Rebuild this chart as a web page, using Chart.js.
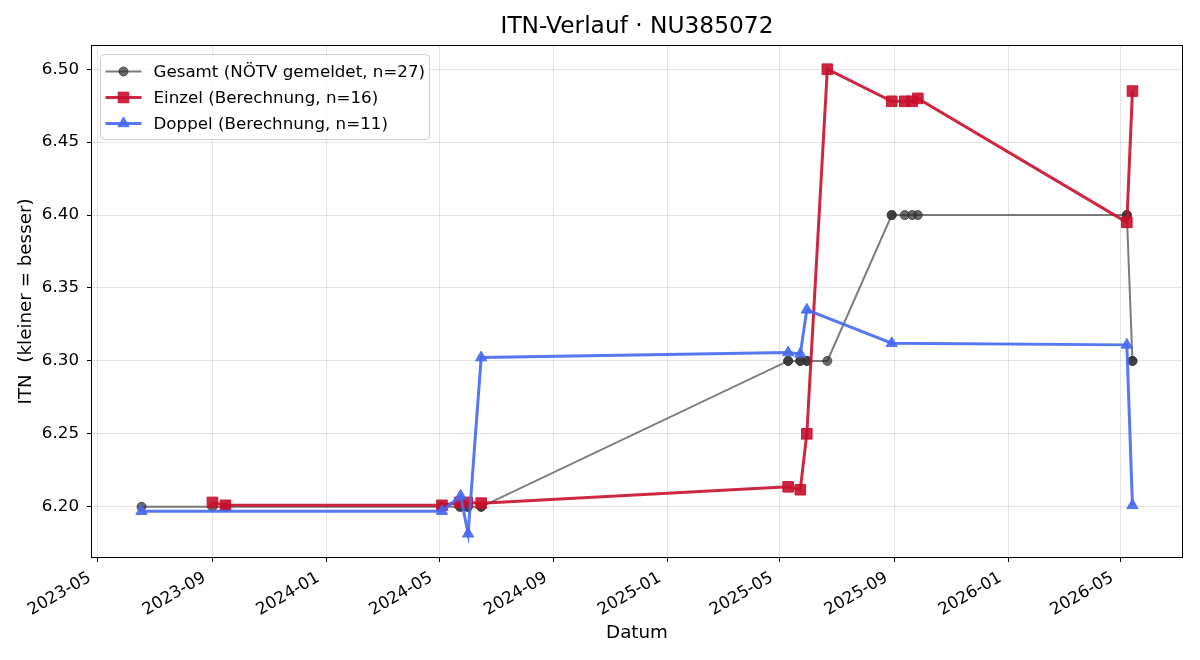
<!DOCTYPE html>
<html lang="de">
<head>
<meta charset="UTF-8">
<title>ITN-Verlauf</title>
<script src="https://cdn.jsdelivr.net/npm/chart.js@4.4.1/dist/chart.umd.min.js"></script>
<style>
  body { margin: 0; background: #fff; }
  canvas { display: block; }
</style>
</head>
<body>
<canvas id="itnChart" width="1200" height="660"></canvas>
<script>
// values
const gesamtDates = [
  '2023-06-17', '2023-09-01', '2023-09-15', '2024-05-04', '2024-05-04', '2024-05-23',
  '2024-05-24', '2024-05-31', '2024-06-01', '2024-06-15', '2024-06-15', '2025-05-10',
  '2025-05-10', '2025-05-23', '2025-05-23', '2025-05-30', '2025-05-30', '2025-06-21',
  '2025-08-29', '2025-08-29', '2025-09-12', '2025-09-20', '2025-09-26', '2026-05-08',
  '2026-05-08', '2026-05-14', '2026-05-14'
];
const gesamtITN = [
  6.20, 6.20, 6.20, 6.20, 6.20, 6.20,
  6.20, 6.20, 6.20, 6.20, 6.20, 6.30,
  6.30, 6.30, 6.30, 6.30, 6.30, 6.30,
  6.40, 6.40, 6.40, 6.40, 6.40, 6.40,
  6.40, 6.30, 6.30
];

const einzelDates = [
  '2023-09-01', '2023-09-15', '2024-05-04', '2024-05-23', '2024-05-31', '2024-06-15',
  '2025-05-10', '2025-05-23', '2025-05-30', '2025-06-21', '2025-08-29', '2025-09-12',
  '2025-09-20', '2025-09-26', '2026-05-08', '2026-05-14'
];
const einzelITN = [
  6.203, 6.201, 6.201, 6.203, 6.203, 6.2025,
  6.2137, 6.2117, 6.250, 6.500, 6.478, 6.478,
  6.478, 6.480, 6.395, 6.485
];

const doppelDates = [
  '2023-06-17', '2024-05-04', '2024-05-24', '2024-06-01', '2024-06-15', '2025-05-10',
  '2025-05-23', '2025-05-30', '2025-08-29', '2026-05-08', '2026-05-14'
];
const doppelITN = [
  6.197, 6.197, 6.2075, 6.1815, 6.3023, 6.3057,
  6.3048, 6.335, 6.3121, 6.311, 6.201
];

const xTickLabels = ['2023-05', '2023-09', '2024-01', '2024-05', '2024-09',
                     '2025-01', '2025-05', '2025-09', '2026-01', '2026-05'];
const yTickValues = [6.20, 6.25, 6.30, 6.35, 6.40, 6.45, 6.50];

function toTime(s) {
  const p = s.split('-').map(Number);
  return Date.UTC(p[0], p[1] - 1, p[2] || 1);
}
function toPoints(dates, vals) {
  return dates.map((d, i) => ({ x: toTime(d), y: vals[i] }));
}
function fmtMonth(v) {
  const d = new Date(v);
  return d.getUTCFullYear() + '-' + String(d.getUTCMonth() + 1).padStart(2, '0');
}

// matplotlib style 5% margins
const allX = [...gesamtDates, ...einzelDates, ...doppelDates].map(toTime);
const allY = [...gesamtITN, ...einzelITN, ...doppelITN];
const xLo = Math.min(...allX), xHi = Math.max(...allX);
const yLo = Math.min(...allY), yHi = Math.max(...allY);
const xPad = (xHi - xLo) * 0.05, yPad = (yHi - yLo) * 0.05;

Chart.defaults.font.family = "'DejaVu Sans', sans-serif";
Chart.defaults.color = '#000';

const frame = {
  id: 'frame',
  afterDatasetsDraw(chart) {
    const { ctx, chartArea: a } = chart;
    ctx.save();
    ctx.strokeStyle = '#000';
    ctx.lineWidth = 1;
    ctx.strokeRect(Math.round(a.left) - 0.5, Math.round(a.top) - 0.5,
                   Math.round(a.right - a.left) + 1, Math.round(a.bottom - a.top) + 1);
    ctx.restore();
  }
};

const legendBox = {
  id: 'legendBox',
  afterDraw(chart) {
    const { ctx, chartArea: a } = chart;
    const bx = a.left + 8.5, by = a.top + 8.5, bw = 329, bh = 85, r = 4;
    ctx.save();
    ctx.beginPath();
    ctx.moveTo(bx + r, by);
    ctx.arcTo(bx + bw, by, bx + bw, by + bh, r);
    ctx.arcTo(bx + bw, by + bh, bx, by + bh, r);
    ctx.arcTo(bx, by + bh, bx, by, r);
    ctx.arcTo(bx, by, bx + bw, by, r);
    ctx.closePath();
    ctx.fillStyle = 'rgba(255,255,255,0.8)';
    ctx.fill();
    ctx.strokeStyle = '#cccccc';
    ctx.lineWidth = 1;
    ctx.stroke();

    chart.data.datasets.forEach((ds, i) => {
      const y = by + 17 + i * 26;
      ctx.strokeStyle = ds.borderColor;
      ctx.lineWidth = ds.borderWidth;
      ctx.beginPath();
      ctx.moveTo(bx + 5, y);
      ctx.lineTo(bx + 41, y);
      ctx.stroke();
      ctx.fillStyle = ds.pointBackgroundColor;
      ctx.strokeStyle = ds.pointBorderColor;
      ctx.lineWidth = ds.pointBorderWidth;
      Chart.helpers.drawPoint(ctx, {
        pointStyle: ds.pointStyle, radius: ds.pointRadius,
        borderWidth: ds.pointBorderWidth, rotation: 0
      }, bx + 23, y);
      ctx.fillStyle = '#000';
      ctx.font = "16.7px 'DejaVu Sans', sans-serif";
      ctx.textBaseline = 'middle';
      ctx.textAlign = 'left';
      ctx.fillText(ds.label, bx + 53, y + 1);
    });
    ctx.restore();
  }
};

const ctx = document.getElementById('itnChart').getContext('2d');
const itnChart = new Chart(ctx, {
  type: 'line',
  data: {
    datasets: [
      {
        label: 'Gesamt (NÖTV gemeldet, n=27)',
        data: toPoints(gesamtDates, gesamtITN),
        borderColor: 'rgba(80,80,80,0.75)',
        borderWidth: 2,
        pointStyle: 'circle',
        pointRadius: 4.5,
        pointBorderWidth: 1,
        pointBackgroundColor: 'rgba(50,50,50,0.72)',
        pointBorderColor: 'rgba(50,50,50,0.72)',
        order: 3
      },
      {
        label: 'Einzel (Berechnung, n=16)',
        data: toPoints(einzelDates, einzelITN),
        borderColor: 'rgba(200,16,46,0.9)',
        borderWidth: 3,
        pointStyle: 'rect',
        pointRadius: 7.5,
        pointBorderWidth: 1,
        pointBackgroundColor: 'rgba(200,16,46,0.9)',
        pointBorderColor: 'rgba(200,16,46,0.9)',
        order: 2
      },
      {
        label: 'Doppel (Berechnung, n=11)',
        data: toPoints(doppelDates, doppelITN),
        borderColor: 'rgba(70,105,240,0.9)',
        borderWidth: 3,
        pointStyle: 'triangle',
        pointRadius: 6.5,
        pointBorderWidth: 1,
        pointBackgroundColor: 'rgba(70,105,240,0.9)',
        pointBorderColor: 'rgba(70,105,240,0.9)',
        order: 1
      }
    ]
  },
  options: {
    responsive: false,
    animation: false,
    devicePixelRatio: 1,
    layout: { padding: { left: 0, right: 18, top: 0, bottom: 0 } },
    elements: { line: { tension: 0 } },
    scales: {
      x: {
        type: 'linear',
        min: xLo - xPad,
        max: xHi + xPad,
        afterBuildTicks: (scale) => {
          scale.ticks = xTickLabels.map(l => ({ value: toTime(l) }));
        },
        afterFit: (scale) => { scale.height = 103; },
        ticks: {
          autoSkip: false,
          minRotation: 30,
          maxRotation: 30,
          padding: 6,
          labelOffset: -8,
          font: { size: 16.7 },
          color: '#000',
          callback: (v) => fmtMonth(v)
        },
        grid: {
          color: 'rgba(0,0,0,0.1)',
          tickColor: '#000',
          tickLength: 5,
          drawTicks: true
        },
        border: { display: false },
        title: {
          display: true,
          text: 'Datum',
          font: { size: 18.3 },
          color: '#000',
          padding: { top: 4, bottom: 16 }
        }
      },
      y: {
        type: 'linear',
        min: yLo - yPad,
        max: yHi + yPad,
        afterBuildTicks: (scale) => {
          scale.ticks = yTickValues.map(v => ({ value: v }));
        },
        afterFit: (scale) => { scale.width = 92; },
        ticks: {
          padding: 8,
          font: { size: 16.7 },
          color: '#000',
          callback: (v) => Number(v).toFixed(2)
        },
        grid: {
          color: 'rgba(0,0,0,0.1)',
          tickColor: '#000',
          tickLength: 5,
          drawTicks: true
        },
        border: { display: false },
        title: {
          display: true,
          text: 'ITN  (kleiner = besser)',
          font: { size: 18.3 },
          color: '#000',
          padding: { top: 15, bottom: 4 }
        }
      }
    },
    plugins: {
      legend: { display: false },
      tooltip: { enabled: false },
      title: {
        display: true,
        text: 'ITN-Verlauf · NU385072',
        fullSize: false,
        color: '#000',
        font: { size: 23.3, weight: 'normal' },
        padding: { top: 13, bottom: 5 }
      }
    }
  },
  plugins: [frame, legendBox]
});
</script>
</body>
</html>
